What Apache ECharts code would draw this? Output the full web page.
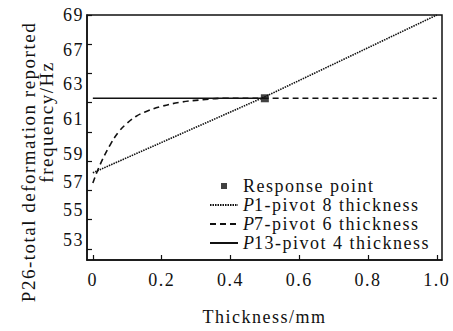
<!DOCTYPE html>
<html>
<head>
<meta charset="utf-8">
<script src="https://cdn.jsdelivr.net/npm/echarts@6/dist/echarts.min.js"></script>
<style>
  html, body { margin: 0; padding: 0; background: #fff; }
  #chart { width: 453px; height: 331px; }
  /* the figure's type is set loose */
  #chart text { letter-spacing: 1.5px; }
</style>
</head>
<body>
<div id="chart"></div>
<script>
// 图表数据
const seriesNames = ['Response point', 'P1-pivot 8 thickness', 'P7-pivot 6 thickness', 'P13-pivot 4 thickness'];
const responsePoint = [[0.5, 63.3]];
const p1Data = [[0, 58.2], [0.5, 63.4], [1.0, 69.0]];
const p7Data = [
  [0, 57.5], [0.02, 58.7], [0.05, 60.1], [0.075, 61.0], [0.1, 61.6],
  [0.125, 62.05], [0.15, 62.35], [0.2, 62.75], [0.26, 63.05], [0.32, 63.2],
  [0.38, 63.3], [0.5, 63.3], [0.7, 63.3], [1.0, 63.3]
];
const p13Data = [[0, 63.3], [0.5, 63.3]];

// 刻度
const xTicks = [0, 0.2, 0.4, 0.6, 0.8, 1.0];
const xTickLabels = ['0', '0.2', '0.4', '0.6', '0.8', '1.0'];
const yTicks = [53, 55, 57, 59, 61, 63, 65, 67, 69];
// labels as printed in the figure, and where they sit on the axis
const yTickLabels = ['69', '67', '63', '61', '59', '57', '55', '53'];
const yLabelAt = [69, 66.6, 64.3, 61.9, 59.5, 57.6, 55.65, 53.6];

const ink = '#111';
const serif = '"Liberation Serif", "Times New Roman", serif';

const chart = echarts.init(document.getElementById('chart'), null, { renderer: 'svg' });

const option = {
  animation: false,
  backgroundColor: '#fff',
  textStyle: { fontFamily: serif, color: ink },
  grid: {
    left: 87, right: 11, top: 15, bottom: 56,
    show: true, borderColor: ink, borderWidth: 1.5
  },
  xAxis: {
    type: 'value',
    min: -0.017,
    max: 1.015,
    name: 'Thickness/mm',
    nameLocation: 'middle',
    nameGap: 48,
    nameTextStyle: { fontFamily: serif, fontSize: 18, color: ink },
    splitLine: { show: false },
    axisLine: { show: true, onZero: false, lineStyle: { color: ink, width: 1.5 } },
    axisTick: { show: true, inside: true, length: 5, customValues: xTicks, lineStyle: { color: ink, width: 1.2 } },
    axisLabel: {
      customValues: xTicks,
      margin: 11,
      fontFamily: serif, fontSize: 18, color: ink,
      formatter: (v) => xTickLabels[xTicks.indexOf(v)]
    }
  },
  yAxis: {
    type: 'value',
    min: 52.23,
    max: 69,
    splitLine: { show: false },
    axisLine: { show: true, onZero: false, lineStyle: { color: ink, width: 1.5 } },
    axisTick: { show: true, inside: true, length: 5, customValues: yTicks, lineStyle: { color: ink, width: 1.2 } },
    axisLabel: {
      customValues: yLabelAt,
      margin: 3,
      fontFamily: serif, fontSize: 18, color: ink,
      formatter: (v) => yTickLabels[yLabelAt.indexOf(v)]
    }
  },
  legend: {
    orient: 'vertical',
    left: 204,
    top: 172,
    itemWidth: 28,
    itemHeight: 6,
    itemGap: 1,
    data: [
      // 小方块图标
      { name: seriesNames[0], icon: 'path://M0,0L10,0L10,10L0,10Z' },
      seriesNames[1], seriesNames[2], seriesNames[3]
    ],
    textStyle: {
      fontFamily: serif, fontSize: 18, color: ink, lineHeight: 17,
      rich: {
        i: { fontFamily: serif, fontSize: 18, fontStyle: 'italic', color: ink, lineHeight: 17 },
        r: { fontFamily: serif, fontSize: 18, color: ink, lineHeight: 17 }
      }
    },
    formatter: (name) => name.charAt(0) === 'P'
      ? '{i|P}{r|' + name.slice(1) + '}'
      : name
  },
  // 纵轴标题，两行各自居中
  graphic: [
    {
      type: 'text', x: 28, y: 162, rotation: Math.PI / 2,
      style: {
        text: 'P26-total deformation reported',
        font: '19px ' + serif, fill: ink,
        align: 'center', verticalAlign: 'middle'
      }
    },
    {
      type: 'text', x: 46, y: 122, rotation: Math.PI / 2,
      style: {
        text: 'frequency/Hz',
        font: '19px ' + serif, fill: ink,
        align: 'center', verticalAlign: 'middle'
      }
    }
  ],
  series: [
    {
      name: seriesNames[0],
      type: 'scatter',
      data: responsePoint,
      symbol: 'rect',
      symbolSize: 8,
      itemStyle: { color: ink },
      z: 10
    },
    {
      name: seriesNames[1],
      type: 'line',
      data: p1Data,
      symbol: 'none',
      // 透明，图例里不画圆点
      itemStyle: { color: 'rgba(0,0,0,0)' },
      lineStyle: { color: ink, width: 1.6, type: [1.5, 1] }
    },
    {
      name: seriesNames[2],
      type: 'line',
      data: p7Data,
      symbol: 'none',
      smooth: 0.4,
      itemStyle: { color: 'rgba(0,0,0,0)' },
      lineStyle: { color: ink, width: 1.6, type: [6, 4] }
    },
    {
      name: seriesNames[3],
      type: 'line',
      data: p13Data,
      symbol: 'none',
      itemStyle: { color: 'rgba(0,0,0,0)' },
      lineStyle: { color: ink, width: 1.6 }
    }
  ]
};

chart.setOption(option);
</script>
</body>
</html>
